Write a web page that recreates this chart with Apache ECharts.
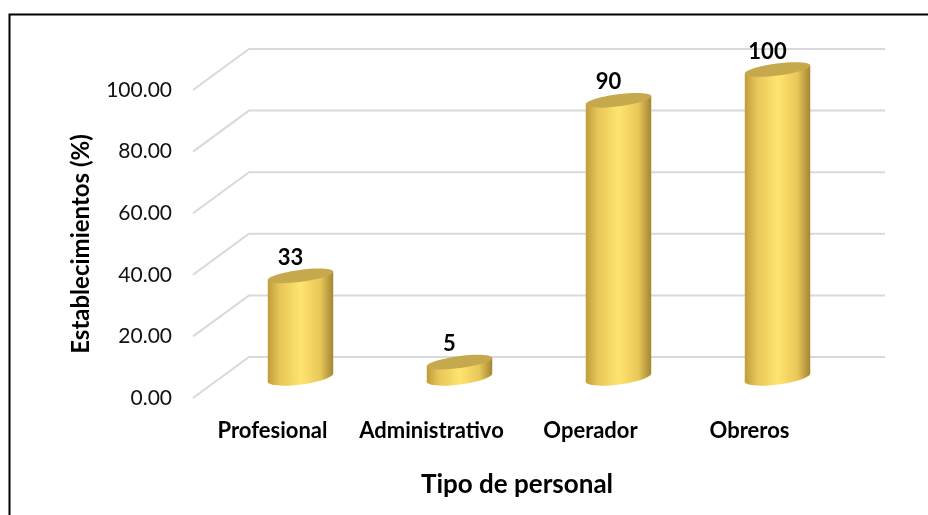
<!DOCTYPE html>
<html>
<head>
<meta charset="utf-8">
<script src="https://cdn.jsdelivr.net/npm/echarts@6/dist/echarts.min.js"></script>
<style>
  html, body { margin: 0; padding: 0; background: #fff; }
  #chart { width: 928px; height: 515px; }
</style>
</head>
<body>
<div id="chart"></div>
<script>
// datos
const categorias = ["Profesional", "Administrativo", "Operador", "Obreros"];
const valores = [33, 5, 90, 100];
const ticksY = [0, 20, 40, 60, 80, 100];

// profundidad de la perspectiva 3D
const DEPTH_X = 56;
const DEPTH_Y = -41;
const FONT = "Lato, 'Noto Sans', sans-serif";

const myChart = echarts.init(document.getElementById("chart"));

// lineas de la rejilla (pared del fondo + diagonal del piso)
let renderGrid = (params, api) => {
  const cs = params.coordSys;
  const y = api.coord([0, api.value(1)])[1];
  const x0 = cs.x;
  const x1 = cs.x + cs.width;
  return {
    type: "polyline",
    shape: {
      points: [
        [x0, y],
        [x0 + DEPTH_X, y + DEPTH_Y],
        [x1 + DEPTH_X, y + DEPTH_Y],
      ],
    },
    style: { stroke: "#D9D9D9", lineWidth: 2, fill: null },
    silent: true,
  };
};

// cilindros
let renderCylinder = (params, api) => {
  const i = api.value(0);
  const v = api.value(1);
  const top = api.coord([i, v]);
  const base = api.coord([i, 0]);
  const cx = top[0] + DEPTH_X / 2;
  const topY = top[1] + DEPTH_Y / 2;
  const baseY = base[1] + DEPTH_Y / 2;
  const rx = 33;
  const ry = 6;
  const rot = 0.13;
  const ex = rx * Math.cos(rot);
  const ey = rx * Math.sin(rot);
  const grad = new echarts.graphic.LinearGradient(0, 0, 1, 0, [
    { offset: 0, color: "#C09C3C" },
    { offset: 0.18, color: "#E6C657" },
    { offset: 0.5, color: "#FFE36F" },
    { offset: 0.8, color: "#E8C858" },
    { offset: 1, color: "#A48534" },
  ]);
  return {
    type: "group",
    children: [
      {
        type: "ellipse",
        x: cx,
        y: baseY,
        rotation: rot,
        shape: { cx: 0, cy: 0, rx: rx, ry: ry + 1 },
        style: { fill: grad },
      },
      {
        type: "polygon",
        shape: {
          points: [
            [cx - ex, topY + ey],
            [cx + ex, topY - ey],
            [cx + ex, baseY - ey],
            [cx - ex, baseY + ey],
          ],
        },
        style: { fill: grad },
      },
      {
        type: "ellipse",
        x: cx,
        y: topY,
        rotation: rot,
        shape: { cx: 0, cy: 0, rx: rx, ry: ry },
        style: { fill: "#C6A84D" },
      },
      {
        type: "text",
        x: cx - 10,
        y: topY - 18,
        style: {
          text: String(v),
          fill: "#000",
          font: "bold 22px " + FONT,
          textAlign: "center",
          textVerticalAlign: "middle",
        },
      },
    ],
  };
};

myChart.setOption({
  animation: false,
  backgroundColor: "#fff",
  graphic: [
    {
      type: "rect",
      left: 7,
      top: 12,
      shape: { width: 1000, height: 600 },
      style: { fill: null, stroke: "#000", lineWidth: 2 },
      silent: true,
    },
  ],
  grid: {
    left: 193,
    right: 99,
    top: 90,
    bottom: 117,
  },
  xAxis: {
    type: "category",
    data: categorias,
    axisLine: { show: false },
    axisTick: { show: false },
    axisLabel: {
      interval: 0,
      color: "#000",
      fontFamily: FONT,
      fontWeight: "bold",
      fontSize: 22,
      margin: 22,
    },
    name: "Tipo de personal",
    nameLocation: "middle",
    nameGap: 74,
    nameTextStyle: {
      color: "#000",
      fontFamily: FONT,
      fontWeight: "bold",
      fontSize: 26,
      padding: [0, 0, 0, 12],
    },
  },
  yAxis: {
    type: "value",
    min: 0,
    max: 100,
    interval: 20,
    axisLine: { show: false },
    axisTick: { show: false },
    splitLine: { show: false },
    axisLabel: {
      color: "#111",
      fontFamily: FONT,
      fontSize: 21,
      margin: 21,
      formatter: (val) => val.toFixed(2),
    },
    name: "Establecimientos (%)",
    nameLocation: "middle",
    nameGap: 100,
    nameTextStyle: {
      color: "#000",
      fontFamily: FONT,
      fontWeight: "bold",
      fontSize: 24,
    },
  },
  series: [
    {
      type: "custom",
      renderItem: renderGrid,
      data: ticksY.map((t) => [0, t]),
      encode: { x: 0, y: 1 },
      clip: false,
      silent: true,
      z: 1,
    },
    {
      type: "custom",
      renderItem: renderCylinder,
      data: valores.map((v, i) => [i, v]),
      encode: { x: 0, y: 1 },
      clip: false,
      z: 2,
    },
  ],
});

window.addEventListener("resize", function () {
  myChart.resize();
});
</script>
</body>
</html>
